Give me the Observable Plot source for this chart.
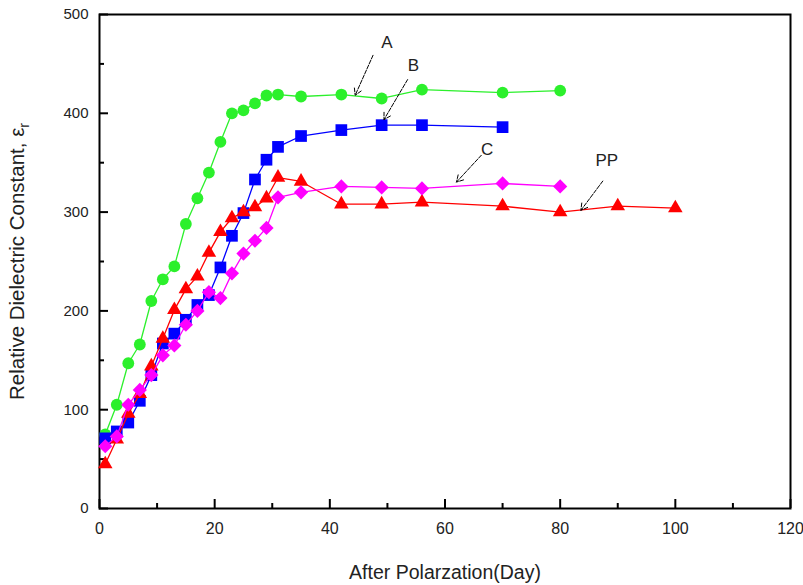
<!DOCTYPE html>
<html>
<head>
<meta charset="utf-8">
<script src="https://cdn.jsdelivr.net/npm/d3@7"></script>
<script src="https://cdn.jsdelivr.net/npm/@observablehq/plot@0.6"></script>
<style>
  html, body { margin: 0; padding: 0; background: #fff; }
  #chart { width: 803px; height: 585px; }
</style>
</head>
<body>
<div id="chart"></div>
<script>
// ---- Data ----
const daysA = [1,3,5,7,9,11,13,15,17,19,21,23,25,27,29,31,35,42,49,56,70,80];
const valuesA = [75,105,147,166,210,232,245,288,314,340,371,400,403,410,418,419,417,419,415,424,421,423];

const daysB = [1,3,5,7,9,11,13,15,17,19,21,23,25,27,29,31,35,42,49,56,70];
const valuesB = [71,78,87,109,135,167,177,191,206,216,244,276,299,333,353,366,377,383,388,388,386];

const daysC = [1,3,5,7,9,11,13,15,17,19,21,23,25,27,29,31,35,42,49,56,70,80];
const valuesC = [63,73,105,120,135,155,165,186,200,219,213,238,258,271,284,315,320,326,325,324,329,326];

const daysPP = [1,3,5,7,9,11,13,15,17,19,21,23,25,27,29,31,35,42,49,56,70,80,90,100];
const valuesPP = [45,70,96,116,144,172,201,222,235,259,280,294,300,305,314,335,331,308,308,310,306,300,306,304];

const xMajorTicks = [0,20,40,60,80,100,120];
const xMinorTicks = [10,30,50,70,90,110];
const yMajorTicks = [0,100,200,300,400,500];
const yMinorTicks = [50,150,250,350,450];

// annotation labels and arrows
const noteNames = ["A","B","C","PP"];
const noteX = [49.9, 54.5, 67.3, 88.1];
const noteY = [472, 448, 363, 352];
const arrowX1 = [47.5, 53.5, 66.3, 87.4];
const arrowY1 = [458.7, 434.1, 357.5, 331.4];
const arrowX2 = [44.4, 49.4, 62.0, 83.6];
const arrowY2 = [418.2, 393.6, 330.4, 301.8];

const xTitle = "After Polarzation(Day)";
const yTitle = "Relative Dielectric Constant, ε";
const ySub = "r";

// ---- Build tables ----
const toRows = (days, vals) => days.map((d, i) => ({day: d, value: vals[i]}));
const rowsA = toRows(daysA, valuesA);
const rowsB = toRows(daysB, valuesB);
const rowsC = toRows(daysC, valuesC);
const rowsPP = toRows(daysPP, valuesPP);
const notes = noteNames.map((n, i) => ({name: n, x: noteX[i], y: noteY[i], x1: arrowX1[i], y1: arrowY1[i], x2: arrowX2[i], y2: arrowY2[i]}));

const green = "#2cf02c", blue = "#0000ff", red = "#ff0000", magenta = "#ff00ff";
const tickFont = "'Liberation Sans Narrow', 'Arial Narrow', 'Liberation Sans', Arial, sans-serif";

function series(rows, color, symbol, r) {
  return [
    Plot.line(rows, {x: "day", y: "value", stroke: color, strokeWidth: 1.3}),
    Plot.dot(rows, {x: "day", y: "value", fill: color, stroke: "none", symbol: symbol, r: r})
  ];
}

const chart = Plot.plot({
  width: 803,
  height: 585,
  marginLeft: 99,
  marginRight: 13,
  marginTop: 14,
  marginBottom: 77,
  style: {background: "#fff", fontFamily: "'Liberation Sans', Arial, sans-serif"},
  x: {domain: [0, 120]},
  y: {domain: [0, 500]},
  marks: [
    // ticks (inward)
    Plot.axisX({ticks: xMajorTicks, tickSize: -9, tickFormat: () => "", strokeWidth: 2, label: null}),
    Plot.axisX({ticks: xMinorTicks, tickSize: -5, tickFormat: () => "", strokeWidth: 2, label: null}),
    Plot.axisY({ticks: yMajorTicks, tickSize: -9, tickFormat: () => "", strokeWidth: 2, label: null}),
    Plot.axisY({ticks: yMinorTicks, tickSize: -5, tickFormat: () => "", strokeWidth: 2, label: null}),
    // tick labels + titles
    Plot.axisX({ticks: xMajorTicks, tickSize: 0, tickPadding: 14, fontSize: 16, fontFamily: tickFont, fill: "#222",
      label: xTitle, labelAnchor: "center", labelOffset: 70, labelArrow: "none"}),
    Plot.axisY({ticks: yMajorTicks, tickSize: 0, tickPadding: 11, fontSize: 15, fill: "#222",
      label: yTitle, labelAnchor: "center", labelOffset: 90, labelArrow: "none"}),
    Plot.frame({stroke: "#000", strokeWidth: 2}),
    ...series(rowsA, green, "circle", 5.9),
    ...series(rowsB, blue, "square", 6.6),
    ...series(rowsPP, red, "triangle", 5.4),
    ...series(rowsC, magenta, "diamond2", 6.4),
    Plot.arrow(notes, {x1: "x1", y1: "y1", x2: "x2", y2: "y2", stroke: "#000", strokeWidth: 1, headLength: 11, strokeDasharray: "4,1.5"}),
    Plot.text(notes, {x: "x", y: "y", text: "name", fontSize: 17, fill: "#222"})
  ]
});

document.getElementById("chart").appendChild(chart);

// style axis titles; add subscript to y title
const svg = d3.select(chart);
svg.selectAll("text").each(function() {
  const t = d3.select(this);
  const txt = this.textContent;
  if (txt === yTitle) {
    t.text(null);
    t.append("tspan").text(yTitle);
    t.append("tspan").style("font-size", "14px").attr("dy", "0.35em").text(ySub);
    t.style("font-size", "20.5px").style("fill", "#222");
  } else if (txt === xTitle) {
    t.style("font-size", "19.5px").style("font-family", tickFont).style("fill", "#222");
  }
});
</script>
</body>
</html>
